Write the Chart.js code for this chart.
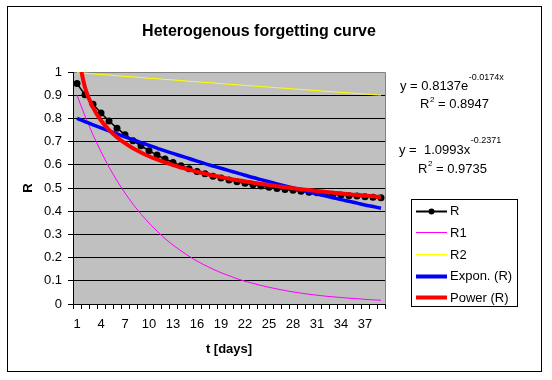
<!DOCTYPE html>
<html><head><meta charset="utf-8">
<script src="https://cdn.jsdelivr.net/npm/chart.js@4.4.1/dist/chart.umd.min.js"></script>
<style>html,body{margin:0;padding:0;background:#fff}#wrap{width:552px;height:380px;position:relative}canvas{display:block}</style>
</head><body><div id="wrap"><canvas id="c" width="552" height="380"></canvas></div>
<script>
const days = [1,2,3,4,5,6,7,8,9,10,11,12,13,14,15,16,17,18,19,20,21,22,23,24,25,26,27,28,29,30,31,32,33,34,35,36,37,38,39];
const tickLabels = ['1','4','7','10','13','16','19','22','25','28','31','34','37'];
const yTicks = [0,0.1,0.2,0.3,0.4,0.5,0.6,0.7,0.8,0.9,1];
const R = [0.950,0.902,0.861,0.823,0.789,0.758,0.730,0.704,0.682,0.661,0.642,0.625,0.610,0.596,0.583,0.571,0.561,0.551,0.543,0.534,0.527,0.520,0.514,0.509,0.503,0.498,0.494,0.490,0.486,0.482,0.479,0.476,0.473,0.470,0.467,0.465,0.462,0.460,0.458];
const R1 = [0.900,0.810,0.729,0.656,0.590,0.531,0.478,0.430,0.387,0.349,0.314,0.282,0.254,0.229,0.206,0.185,0.167,0.150,0.135,0.122,0.109,0.098,0.089,0.080,0.072,0.065,0.058,0.052,0.047,0.042,0.038,0.034,0.031,0.028,0.025,0.023,0.020,0.018,0.016];
const R2 = [0.997,0.995,0.992,0.989,0.987,0.984,0.981,0.979,0.976,0.973,0.971,0.968,0.966,0.963,0.960,0.958,0.955,0.953,0.950,0.947,0.945,0.942,0.940,0.937,0.935,0.932,0.930,0.927,0.925,0.922,0.920,0.917,0.915,0.912,0.910,0.907,0.905,0.902,0.900];
const exponR = [0.800,0.786,0.772,0.759,0.746,0.733,0.720,0.708,0.696,0.684,0.672,0.660,0.649,0.638,0.627,0.616,0.605,0.595,0.585,0.575,0.565,0.555,0.545,0.536,0.527,0.518,0.509,0.500,0.491,0.483,0.474,0.466,0.458,0.450,0.443,0.435,0.427,0.420,0.413];
const powerR = [1.099,0.933,0.847,0.791,0.751,0.719,0.693,0.671,0.653,0.637,0.623,0.610,0.599,0.588,0.579,0.570,0.562,0.554,0.547,0.540,0.534,0.528,0.523,0.517,0.513,0.508,0.503,0.499,0.495,0.491,0.487,0.483,0.480,0.476,0.473,0.470,0.467,0.464,0.461];
const seriesNames = ['R','R1','R2','Expon. (R)','Power (R)'];
const equations = [
  {main:'y = 0.8137e', sup:'-0.0174x'},
  {main:'R', sup:'2', rest:' = 0.8947'},
  {main:'y =  1.0993x', sup:'-0.2371'},
  {main:'R', sup:'2', rest:' = 0.9735'}
];
const titleText = 'Heterogenous forgetting curve';
const FONT = '"Liberation Sans", Arial, sans-serif';

const decor = {
  id: 'decor',
  beforeDraw(chart) {
    const {ctx, chartArea: a} = chart;
    ctx.save();
    ctx.fillStyle = '#ffffff';
    ctx.fillRect(0, 0, chart.width, chart.height);
    ctx.fillStyle = '#C0C0C0';
    ctx.fillRect(a.left, a.top, a.right - a.left, a.bottom - a.top);
    ctx.restore();
  },
  beforeDatasetsDraw(chart) {
    const {ctx, chartArea: a} = chart;
    ctx.save();
    ctx.strokeStyle = '#808080';
    ctx.lineWidth = 1;
    ctx.beginPath();
    ctx.moveTo(a.left + 1, a.top + 0.5);
    ctx.lineTo(a.right + 0.5, a.top + 0.5);
    ctx.lineTo(a.right + 0.5, a.bottom);
    ctx.stroke();
    ctx.restore();
  },
  afterDraw(chart) {
    const {ctx} = chart;
    ctx.save();
    // outer frame
    ctx.strokeStyle = '#000';
    ctx.lineWidth = 1;
    ctx.strokeRect(7.5, 6.5, 534, 365);
    // title
    ctx.fillStyle = '#000';
    ctx.font = 'bold 16px ' + FONT;
    ctx.textAlign = 'center';
    ctx.textBaseline = 'alphabetic';
    ctx.fillText(titleText, 259, 36);
    // equations
    const eqPos = [[400, 89.5, 80], [420, 107.7, 101.5], [399, 154, 142.5], [418, 172.5, 166]];
    ctx.textAlign = 'left';
    equations.forEach((e, i) => {
      const [x, base, supBase] = eqPos[i];
      ctx.font = '13px ' + FONT;
      ctx.fillText(e.main, x, base);
      let w = ctx.measureText(e.main).width;
      const small = e.rest ? '8px ' : '9px ';
      ctx.font = small + FONT;
      ctx.fillText(e.sup, x + w + 0.5, supBase);
      const w2 = ctx.measureText(e.sup).width;
      if (e.rest) {
        ctx.font = '13px ' + FONT;
        ctx.fillText(e.rest, x + w + w2 + 0.5, base);
      }
    });
    // legend
    ctx.strokeRect(411.5, 199.5, 106, 107);
    chart.data.datasets.forEach((ds, i) => {
      const base = 215.3 + i * 21.6;
      const ly = Math.round(base - 4.5) + 0.5;
      ctx.strokeStyle = ds.borderColor;
      ctx.lineWidth = ds.legendWidth;
      ctx.beginPath();
      ctx.moveTo(416, ly);
      ctx.lineTo(447, ly);
      ctx.stroke();
      if (ds.pointRadius > 0) {
        ctx.fillStyle = ds.pointBackgroundColor;
        ctx.beginPath();
        ctx.arc(431.5, ly, 3, 0, Math.PI * 2);
        ctx.fill();
      }
      ctx.fillStyle = '#000';
      ctx.font = '13px ' + FONT;
      ctx.fillText(ds.label, 450, base);
    });
    ctx.restore();
  }
};

new Chart(document.getElementById('c'), {
  type: 'line',
  data: {
    labels: days.map(String),
    datasets: [
      {label: seriesNames[0], data: R, borderColor: '#000000', backgroundColor: '#000000', borderWidth: 1.5, legendWidth: 2,
       pointRadius: 3.5, pointBackgroundColor: '#000000', pointBorderColor: '#000000', pointBorderWidth: 0, tension: 0, order: 5, clip: 0},
      {label: seriesNames[1], data: R1, borderColor: '#FF00FF', borderWidth: 1, legendWidth: 1, pointRadius: 0, tension: 0, order: 4, clip: 0},
      {label: seriesNames[2], data: R2, borderColor: '#FFFF00', borderWidth: 1, legendWidth: 1, pointRadius: 0, tension: 0, order: 3, clip: 0},
      {label: seriesNames[3], data: exponR, borderColor: '#0000FF', borderWidth: 3.5, legendWidth: 4, pointRadius: 0, cubicInterpolationMode: 'monotone', order: 2, clip: 0},
      {label: seriesNames[4], data: powerR, borderColor: '#FF0000', borderWidth: 4, legendWidth: 4, pointRadius: 0, cubicInterpolationMode: 'monotone', order: 1, clip: 0}
    ]
  },
  options: {
    responsive: false,
    animation: false,
    devicePixelRatio: 1,
    events: [],
    layout: {padding: {left: 0, top: 72, right: 167, bottom: 0}},
    plugins: {legend: {display: false}, title: {display: false}, tooltip: {enabled: false}},
    scales: {
      x: {
        type: 'category',
        offset: true,
        afterFit(s) { s.height = 76; },
        grid: {display: true, drawOnChartArea: false, drawTicks: true, tickLength: 5, offset: true, color: '#000', lineWidth: 1},
        border: {display: true, color: '#000', width: 1},
        ticks: {
          autoSkip: false, maxRotation: 0, minRotation: 0, padding: 8, color: '#000',
          font: {family: FONT, size: 13},
          callback(value, index) { const l = String(days[index]); return tickLabels.includes(l) ? l : ''; }
        },
        title: {display: true, text: 't [days]', color: '#000', font: {family: FONT, size: 13, weight: 'bold'}, padding: {top: 0, bottom: 23}}
      },
      y: {
        min: 0, max: 1,
        afterFit(s) { s.width = 73; },
        afterBuildTicks(s) { s.ticks = yTicks.map(v => ({value: v})); },
        grid: {color: '#000', lineWidth: 1, drawTicks: true, tickLength: 5},
        border: {display: true, color: '#000', width: 1},
        ticks: {padding: 6, color: '#000', font: {family: FONT, size: 13}, callback(v) { return String(v); }},
        title: {display: true, text: 'R', color: '#000', font: {family: FONT, size: 13, weight: 'bold'}, padding: {top: 21, bottom: 0}}
      }
    }
  },
  plugins: [decor]
});
</script>
</body></html>
